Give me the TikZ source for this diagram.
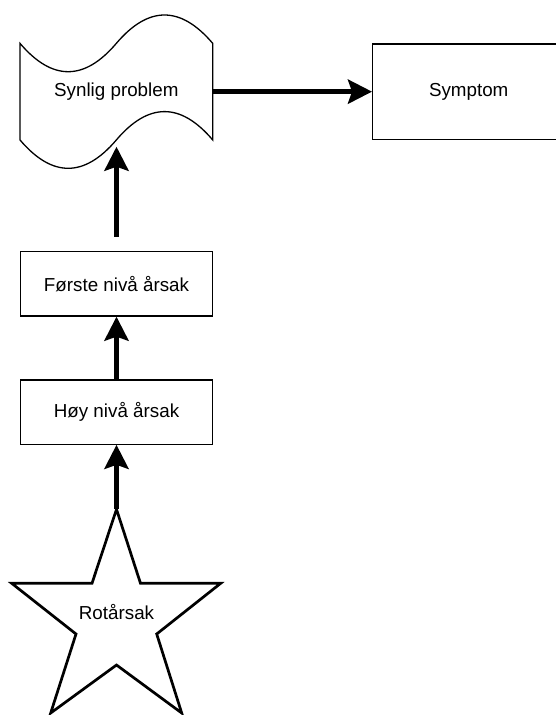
\documentclass[tikz,border=0pt]{standalone}
\usepackage{fontspec}
\setmainfont{Liberation Sans}
\usetikzlibrary{arrows.meta}
\begin{document}
\begin{tikzpicture}[x=1pt,y=-1pt,
  lbl/.style={font=\fontsize{18.8}{22}\selectfont, inner sep=0pt},
  box/.style={lbl, draw, line width=1.3pt, minimum width=192pt, minimum height=64.3pt},
  shapeline/.style={line width=1.3pt},
  starline/.style={line width=2.7pt, line join=miter},
  conn/.style={line width=5.5pt, -{Stealth[length=24pt,width=24pt,inset=4pt]}}]
\useasboundingbox (0,0) rectangle (556,715);

% Synlig problem (tape shape)
\node[lbl, minimum width=192.7pt, minimum height=159.6pt] (vis) at (116.35,91.65) {Synlig problem};
\draw[shapeline] (20,43.35) .. controls (52.12,81.15) and (84.23,81.15) .. (116.35,43.35)
  .. controls (148.47,5.55) and (180.58,5.55) .. (212.7,43.35) -- (212.7,139.95)
  .. controls (180.58,102.15) and (148.47,102.15) .. (116.35,139.95)
  .. controls (84.23,177.75) and (52.12,177.75) .. (20,139.95) -- cycle;

% Symptom
\node[box, minimum height=95.3pt] (sym) at (468.7,91.65) {Symptom};

% Boxes
\node[box] (first) at (116.5,283.85) {Første nivå årsak};
\node[box] (high) at (116.5,412) {Høy nivå årsak};

% Star
\node[lbl] (root) at (116.5,612) {Rotårsak};
\coordinate (startop) at (116.5,509.3);
\draw[starline] (startop) -- (140.5,583.3) -- (220.7,583.3) -- (156.7,634) -- (181.7,713)
  -- (116.5,665) -- (50.7,713) -- (76,634) -- (11.7,583.3) -- (92,583.3) -- cycle;

% Connectors
\coordinate (tail) at (116.5,236.7);
\coordinate (vistip) at (116.5,146.7);
\draw[conn] (vis.east) -- (sym.west);
\draw[conn] (tail) -- (vistip);
\draw[conn] (high.north) -- (first.south);
\draw[conn] (startop) -- (high.south);
\end{tikzpicture}
\end{document}
